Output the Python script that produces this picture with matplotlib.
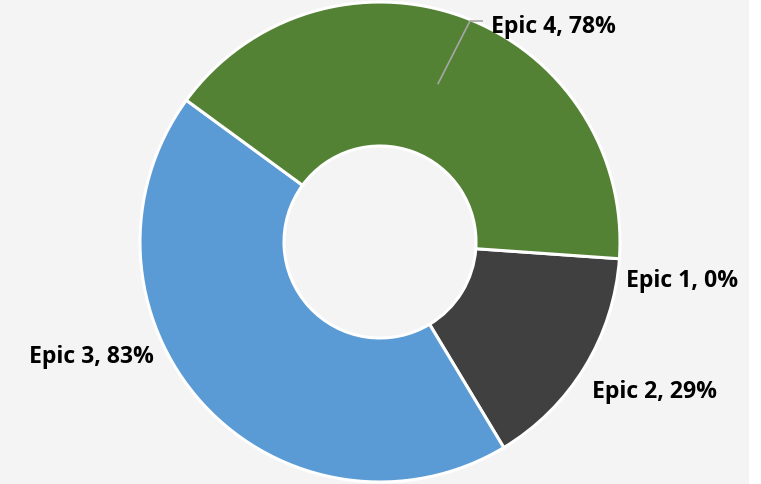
# plot.py - donut chart of epic completion

import matplotlib.pyplot as plt
import numpy as np

labels = ["Epic 1", "Epic 2", "Epic 3", "Epic 4"]
percent_done = [0, 29, 83, 78]
colors = ["#7f7f7f", "#404040", "#5b9bd5", "#548235"]

fig = plt.figure(figsize=(7.61, 4.85), dpi=100)
fig.patch.set_facecolor("white")

# light grey chart area (white strip on the right)
bg = fig.add_axes([0, 0, 749 / 761, 1])
bg.set_facecolor("#f4f4f4")
bg.set_xticks([])
bg.set_yticks([])
for s in bg.spines.values():
    s.set_visible(False)

ax = fig.add_axes([0, 0, 1, 1])
ax.set_facecolor("none")

wedges, _ = ax.pie(
    percent_done,
    colors=colors,
    startangle=-4,
    counterclock=False,
    radius=1.0,
    wedgeprops=dict(width=0.6, edgecolor="white", linewidth=2.2),
)

# pixel -> data scaling (centre at 380,243 px, radius 240 px)
scale = 240.0
ax.set_xlim(-380 / scale, (761 - 380) / scale)
ax.set_ylim(-(485 - 243) / scale, 243 / scale)
ax.set_aspect("equal")
ax.axis("off")

font = dict(fontsize=16.6, fontweight="bold", family=["Open Sans", "DejaVu Sans"],
            color="black", va="baseline", ha="left")

# leader line for Epic 4 from the middle of its ring
w4 = wedges[3]
mid = np.deg2rad((w4.theta1 + w4.theta2) / 2)
x0, y0 = 0.7 * np.cos(mid), 0.7 * np.sin(mid)
ax.plot([x0, 90 / scale, 103 / scale], [y0, 221 / scale, 221 / scale],
        color="#a6a6a6", linewidth=1.2, solid_capstyle="butt")

label_pos = {
    "Epic 1": (246 / scale, -44 / scale),
    "Epic 2": (212 / scale, -155 / scale),
    "Epic 3": (-351 / scale, -120 / scale),
    "Epic 4": (111 / scale, 210 / scale),
}
for name, val in zip(labels, percent_done):
    x, y = label_pos[name]
    ax.text(x, y, f"{name}, {val}%", **font)

fig.savefig("out.png", dpi=100)
